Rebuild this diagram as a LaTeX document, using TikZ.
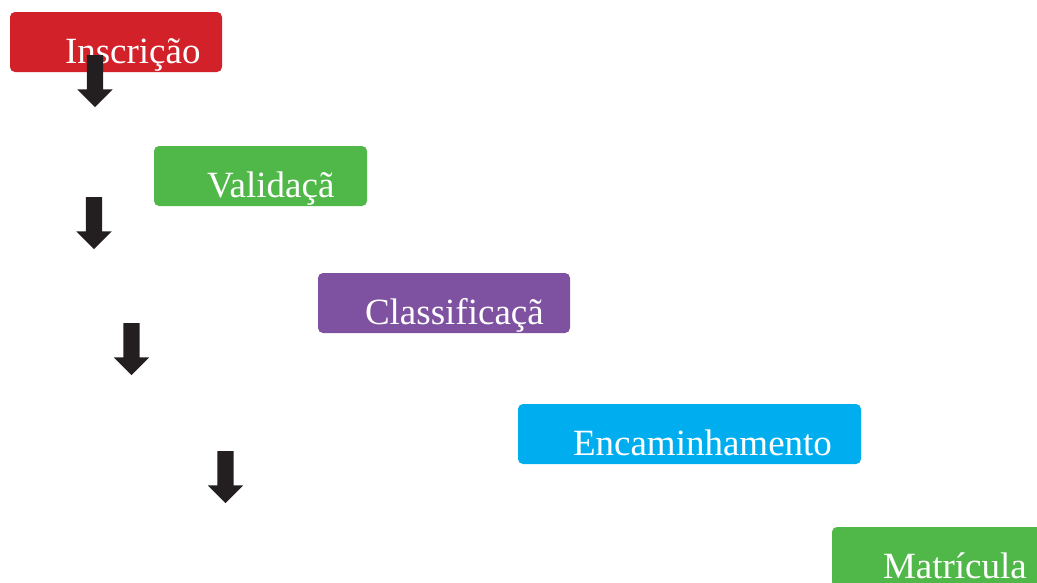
\documentclass[tikz,border=0pt]{standalone}
\usepackage{fontspec}
\setmainfont{Liberation Serif}
\usepackage{tikz}
\usetikzlibrary{shapes}
\usetikzlibrary{shapes.arrows}
\usetikzlibrary{positioning}
\definecolor{etapaVermelho}{HTML}{D22129}
\definecolor{etapaVerde}{HTML}{50B848}
\definecolor{etapaRoxo}{HTML}{7F52A1}
\definecolor{etapaAzul}{HTML}{00AEEF}
\definecolor{setaCor}{HTML}{231F20}
\tikzstyle{etapa} = [rectangle, rounded corners=5pt, anchor=north west, text=white,
        font={\fontsize{37}{44}\selectfont}, align=left, inner ysep=9pt,
        text height=42pt, text depth=0pt, outer sep=0pt]
\tikzstyle{seta} = [single arrow, rotate=-90, anchor=tail, fill=setaCor, draw=none,
        minimum height=52pt, inner xsep=0pt, inner ysep=8pt, text height=0pt,
        text depth=0pt, outer sep=0pt, single arrow head extend=9.5pt,
        single arrow tip angle=90]
\begin{document}
\begin{tikzpicture}[x=1pt, y=-1pt]
                \useasboundingbox (0,0) rectangle (1037,582);
                \draw (10,12)
                    node [etapa, fill=etapaVermelho, inner xsep=55pt, text width=102pt] (inscricao) {Inscrição}
                    +(144,134)
                    node [etapa, fill=etapaVerde, inner xsep=53pt, text width=107pt] (validacao) {Validaçã}
                    +(308,261)
                    node [etapa, fill=etapaRoxo, inner xsep=47pt, text width=158pt] (classificacao) {Classificaçã}
                    +(508,392)
                    node [etapa, fill=etapaAzul, inner xsep=55pt, text width=233pt] (encaminhamento) {Encaminhamento}
                    +(822,515)
                    node [etapa, fill=etapaVerde, inner xsep=51pt, text width=111pt] (matricula) {Matrícula};
                \draw (95,55)
                    node [seta] (seta1) {}
                    +(-1,142)
                    node [seta] (seta2) {}
                    +(36.5,268)
                    node [seta] (seta3) {}
                    +(130.5,396)
                    node [seta] (seta4) {};
            \end{tikzpicture}
\end{document}
